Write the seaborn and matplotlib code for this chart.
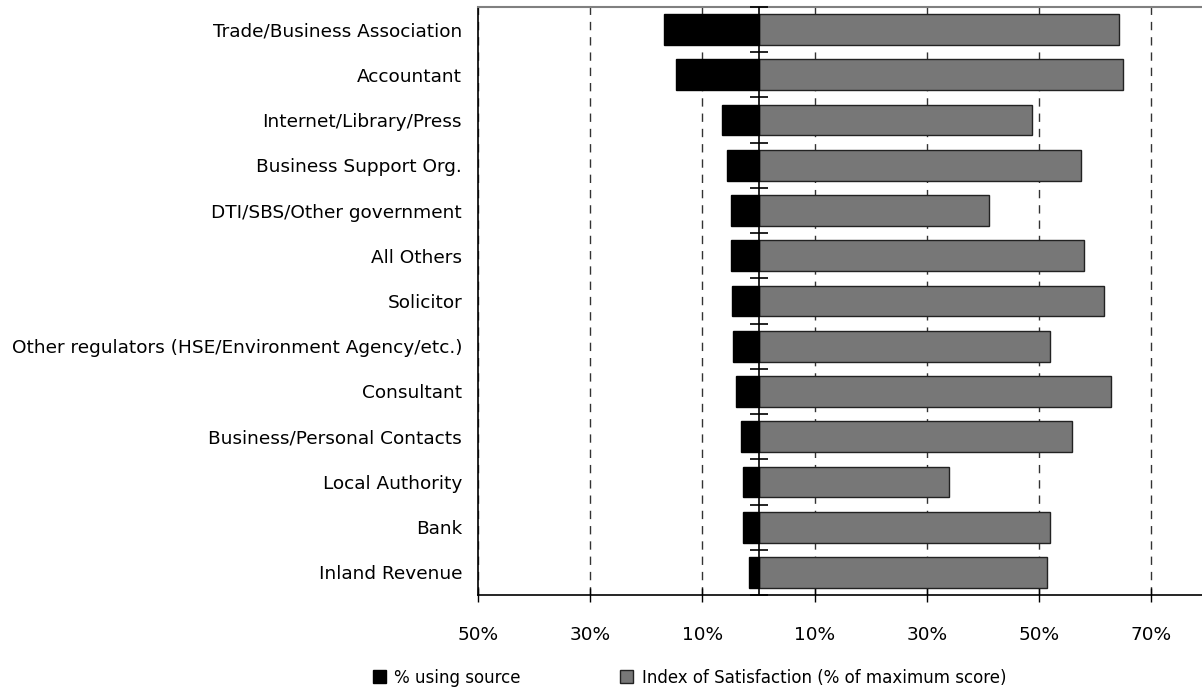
import numpy as np
import pandas as pd
import matplotlib
matplotlib.use("Agg")
import matplotlib.pyplot as plt
from matplotlib.patches import Patch
from matplotlib.ticker import FuncFormatter, FixedLocator
import seaborn as sns

sources = [
    "Trade/Business Association",
    "Accountant",
    "Internet/Library/Press",
    "Business Support Org.",
    "DTI/SBS/Other government",
    "All Others",
    "Solicitor",
    "Other regulators (HSE/Environment Agency/etc.)",
    "Consultant",
    "Business/Personal Contacts",
    "Local Authority",
    "Bank",
    "Inland Revenue",
]
pct_using = [16.8, 14.7, 6.6, 5.6, 5.0, 5.0, 4.7, 4.6, 4.1, 3.1, 2.8, 2.7, 1.8]
satisfaction = [64.2, 64.9, 48.7, 57.5, 41.0, 57.9, 61.6, 51.9, 62.7, 55.9, 34.0, 52.0, 51.4]
x_ticks = [-50, -30, -10, 10, 30, 50, 70]

sns.set_theme(style="white")
plt.rcParams["font.family"] = ["DejaVu Sans"]
plt.rcParams["text.color"] = "black"

df = pd.DataFrame({"source": sources,
                   "using": [-v for v in pct_using],
                   "satisfaction": satisfaction})

fig = plt.figure(figsize=(12.02, 6.91), dpi=100)
ax = fig.add_axes([478 / 1202, 1 - 595 / 691, 1 - 478 / 1202, (595 - 7) / 691])

# dashed reference grid
for xv in x_ticks:
    ax.axvline(xv, color="#333333", linestyle=(0, (6, 5)), linewidth=1.0, zorder=0)

sns.barplot(data=df, y="source", x="satisfaction", orient="h", ax=ax,
            color="#777777", edgecolor="#222222", linewidth=1.0,
            width=0.68, saturation=1, zorder=2)
sns.barplot(data=df, y="source", x="using", orient="h", ax=ax,
            color="#000000", edgecolor="#000000", linewidth=1.0,
            width=0.68, saturation=1, zorder=2)

# zero line with category boundary ticks
n = len(sources)
ax.axvline(0, color="black", linewidth=1.2, zorder=3)
bounds = np.arange(n + 1) - 0.5
ax.plot(np.zeros(n + 1), bounds, linestyle="none", marker="_",
        markersize=13, markeredgewidth=1.2, color="black", zorder=4,
        clip_on=False)

ax.set_xlim(-50, 79)
ax.set_ylim(n - 0.5, -0.5)
ax.xaxis.set_major_locator(FixedLocator(x_ticks))
ax.xaxis.set_major_formatter(FuncFormatter(lambda v, p: f"{abs(v):.0f}%"))
ax.set_xlabel("")
ax.set_ylabel("")

ax.tick_params(axis="x", direction="inout", length=10, width=1.0,
               color="black", labelcolor="black", labelsize=13.3, pad=17, bottom=True)
ax.tick_params(axis="y", length=0, labelsize=13.3, labelcolor="black", pad=11.5)

for side in ("left", "bottom"):
    ax.spines[side].set_color("black")
    ax.spines[side].set_linewidth(1.2)
ax.spines["top"].set_color("#808080")
ax.spines["top"].set_linewidth(1.5)
ax.spines["right"].set_visible(False)

handles = [Patch(facecolor="#000000", edgecolor="#000000", label="% using source"),
           Patch(facecolor="#777777", edgecolor="#222222", label="Index of Satisfaction (% of maximum score)")]
fig.legend(handles=handles, loc="center", bbox_to_anchor=(0.5736, 1 - 678 / 691),
           ncol=2, frameon=False, labelcolor="black",
           prop={"family": "DejaVu Sans", "size": 13.3, "stretch": "condensed"},
           handlelength=0.7, handleheight=0.7,
           handletextpad=0.45, columnspacing=5.4)

fig.savefig("out.png", dpi=100)
